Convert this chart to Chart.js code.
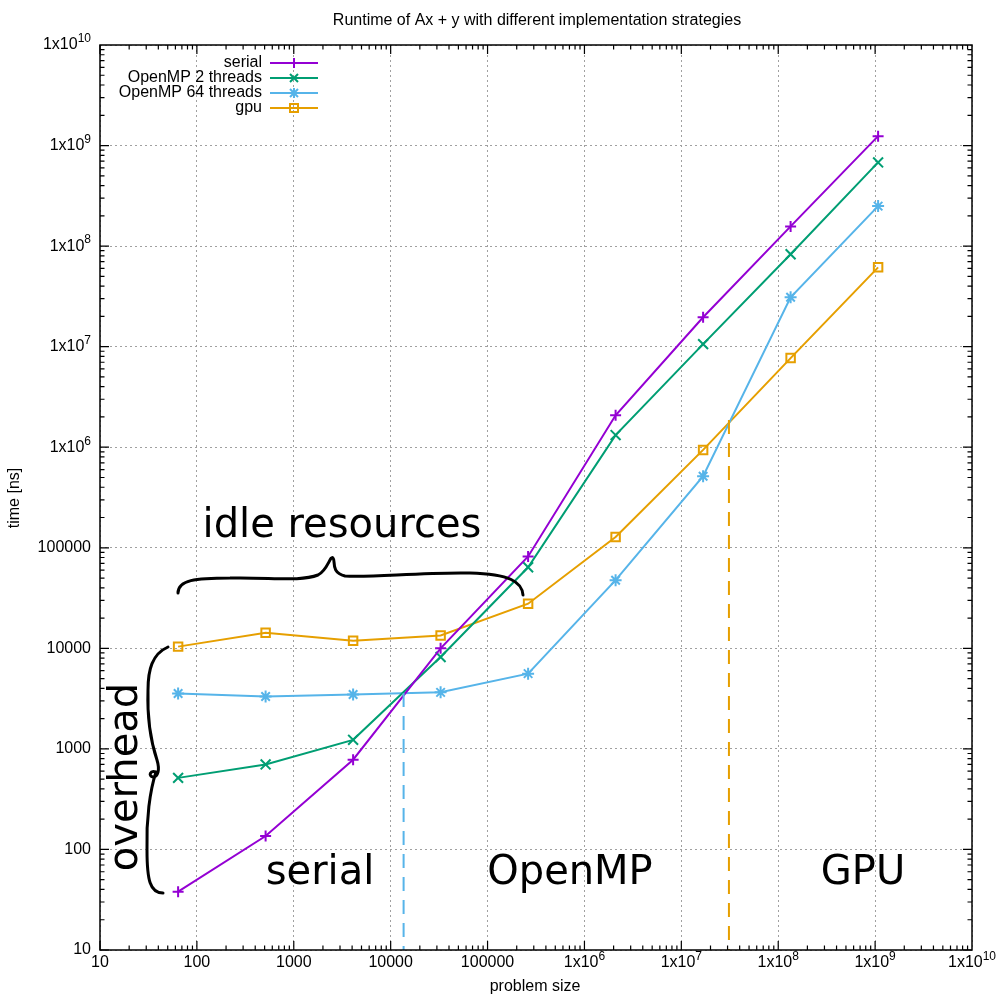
<!DOCTYPE html>
<html>
<head>
<meta charset="utf-8">
<script src="https://cdn.jsdelivr.net/npm/chart.js@4"></script>
<style>
  body { margin: 0; background: #fff; }
  #wrap { width: 1000px; height: 1000px; }
</style>
</head>
<body>
<div id="wrap"><canvas id="runtimeChart" width="1000" height="1000"></canvas></div>
<script>
// problem sizes (x) and runtimes in ns (y)
const problemSize = [64, 512, 4096, 32768, 262144, 2097152, 16777216, 134217728, 1073741824];
const serialTime = [38, 136, 780, 10000, 82000, 2.08e6, 1.96e7, 1.57e8, 1.24e9];
const omp2Time = [515, 700, 1230, 8200, 64000, 1.32e6, 1.06e7, 8.3e7, 6.8e8];
const omp64Time = [3550, 3320, 3480, 3650, 5600, 47600, 5.15e5, 3.1e7, 2.5e8];
const gpuTime = [10400, 14300, 11900, 13400, 27800, 1.28e5, 9.4e5, 7.7e6, 6.15e7];

const seriesNames = ['serial', 'OpenMP 2 threads', 'OpenMP 64 threads', 'gpu'];
const seriesColors = ['#9400d3', '#009e73', '#56b4e9', '#e69f00'];
const seriesMarkers = ['plus', 'x', 'star', 'square'];

// axis decades
const decadeTicks = [10, 100, 1000, 10000, 100000, 1e6, 1e7, 1e8, 1e9, 1e10];

// crossover markers (x, y top) for the dashed lines
const crossOmp = [13600, 3590];
const crossGpu = [3.1e7, 1.86e6];

function makePoints(ys) {
    return problemSize.map((x, i) => ({ x: x, y: ys[i] }));
}

// draw a gnuplot-like marker
function drawMarker(ctx, kind, x, y, color) {
    const r = 5;
    ctx.save();
    ctx.strokeStyle = color;
    ctx.lineWidth = 2;
    ctx.setLineDash([]);
    ctx.beginPath();
    if (kind === 'plus' || kind === 'star') {
        ctx.moveTo(x - r, y); ctx.lineTo(x + r, y);
        ctx.moveTo(x, y - r); ctx.lineTo(x, y + r);
    }
    if (kind === 'x' || kind === 'star') {
        ctx.moveTo(x - 4, y - 4); ctx.lineTo(x + 4, y + 4);
        ctx.moveTo(x - 4, y + 4); ctx.lineTo(x + 4, y - 4);
    }
    if (kind === 'square') {
        ctx.rect(x - 4, y - 4, 8, 8);
    }
    ctx.stroke();
    ctx.restore();
}

// label like 1x10^6 with a superscript
function tickLabel(ctx, v, x, y, align) {
    const exp = Math.round(Math.log10(v));
    ctx.save();
    ctx.fillStyle = '#000';
    ctx.textBaseline = 'middle';
    ctx.font = '16px "Liberation Sans"';
    if (exp <= 5) {
        ctx.textAlign = align;
        ctx.fillText(String(Math.round(v)), x, y);
    } else {
        const base = '1x10';
        const bw = ctx.measureText(base).width;
        ctx.font = '12px "Liberation Sans"';
        const ew = ctx.measureText(String(exp)).width;
        const total = bw + ew;
        const left = align === 'right' ? x - total : x - total / 2;
        ctx.textAlign = 'left';
        ctx.font = '16px "Liberation Sans"';
        ctx.fillText(base, left, y);
        ctx.font = '12px "Liberation Sans"';
        ctx.fillText(String(exp), left + bw, y - 6);
    }
    ctx.restore();
}

const gnuplotLook = {
    id: 'gnuplotLook',
    beforeDraw(chart) {
        const ctx = chart.ctx;
        ctx.save();
        ctx.fillStyle = '#fff';
        ctx.fillRect(0, 0, chart.width, chart.height);
        ctx.restore();
    },
    afterDatasetsDraw(chart) {
        const ctx = chart.ctx;
        const a = chart.chartArea;
        const xs = chart.scales.x, ys = chart.scales.y;

        // dashed crossover lines
        ctx.save();
        ctx.lineWidth = 2;
        ctx.setLineDash([14, 9]);
        ctx.strokeStyle = seriesColors[2];
        let px = xs.getPixelForValue(crossOmp[0]);
        ctx.beginPath();
        ctx.moveTo(px, ys.getPixelForValue(crossOmp[1]));
        ctx.lineTo(px, a.bottom);
        ctx.stroke();
        ctx.strokeStyle = seriesColors[3];
        px = xs.getPixelForValue(crossGpu[0]);
        ctx.beginPath();
        ctx.moveTo(px, ys.getPixelForValue(crossGpu[1]));
        ctx.lineTo(px, a.bottom);
        ctx.stroke();
        ctx.restore();

        // frame
        ctx.save();
        ctx.strokeStyle = '#000';
        ctx.lineWidth = 1.5;
        ctx.strokeRect(a.left, a.top, a.right - a.left, a.bottom - a.top);

        // major and minor ticks on all four sides
        ctx.lineWidth = 1.2;
        ctx.beginPath();
        for (let e = 1; e < 10; e++) {
            for (let m = 1; m <= 9; m++) {
                const v = m * Math.pow(10, e);
                const len = m === 1 ? 9 : 4.5;
                const tx = xs.getPixelForValue(v);
                ctx.moveTo(tx, a.bottom); ctx.lineTo(tx, a.bottom - len);
                ctx.moveTo(tx, a.top); ctx.lineTo(tx, a.top + len);
                const ty = ys.getPixelForValue(v);
                ctx.moveTo(a.left, ty); ctx.lineTo(a.left + len, ty);
                ctx.moveTo(a.right, ty); ctx.lineTo(a.right - len, ty);
            }
        }
        ctx.stroke();
        ctx.restore();

        // tick labels
        decadeTicks.forEach(v => {
            tickLabel(ctx, v, a.left - 9, ys.getPixelForValue(v), 'right');
            tickLabel(ctx, v, xs.getPixelForValue(v), a.bottom + 13, 'center');
        });

        // title and axis titles
        ctx.save();
        ctx.fillStyle = '#000';
        ctx.textAlign = 'center';
        ctx.textBaseline = 'middle';
        ctx.font = '16px "Liberation Sans"';
        ctx.fillText('Runtime of Ax + y with different implementation strategies', 537, 21);
        ctx.fillText('problem size', 535, 987);
        ctx.translate(15, 498);
        ctx.rotate(-Math.PI / 2);
        ctx.fillText('time [ns]', 0, 0);
        ctx.restore();

        // legend
        ctx.save();
        ctx.font = '16px "Liberation Sans"';
        ctx.textAlign = 'right';
        ctx.textBaseline = 'middle';
        seriesNames.forEach((name, i) => {
            const ly = 63 + i * 15;
            ctx.fillStyle = '#000';
            ctx.fillText(name, 262, ly);
            ctx.strokeStyle = seriesColors[i];
            ctx.lineWidth = 2;
            ctx.beginPath();
            ctx.moveTo(270, ly); ctx.lineTo(318, ly);
            ctx.stroke();
            drawMarker(ctx, seriesMarkers[i], 294, ly, seriesColors[i]);
        });
        ctx.restore();

        // hand drawn annotations
        ctx.save();
        ctx.strokeStyle = '#000';
        ctx.lineWidth = 3;
        ctx.lineCap = 'round';
        ctx.lineJoin = 'round';
        // idle resources brace
        ctx.beginPath();
        ctx.moveTo(178, 593);
        ctx.bezierCurveTo(178, 580, 195, 578, 230, 578);
        ctx.bezierCurveTo(270, 577, 300, 582, 318, 575);
        ctx.bezierCurveTo(328, 570, 330, 555, 333, 558);
        ctx.bezierCurveTo(336, 561, 330, 572, 345, 576);
        ctx.bezierCurveTo(370, 578, 420, 572, 470, 573);
        ctx.bezierCurveTo(510, 574, 522, 582, 523, 595);
        ctx.stroke();
        // overhead brace
        ctx.beginPath();
        ctx.moveTo(168, 647);
        ctx.bezierCurveTo(152, 654, 148, 670, 148, 690);
        ctx.bezierCurveTo(147, 720, 152, 745, 157, 760);
        ctx.bezierCurveTo(160, 770, 158, 777, 153, 777);
        ctx.bezierCurveTo(148, 776, 150, 770, 156, 772);
        ctx.bezierCurveTo(150, 790, 146, 820, 147, 850);
        ctx.bezierCurveTo(147, 880, 150, 893, 163, 893);
        ctx.stroke();
        ctx.restore();

        ctx.save();
        ctx.fillStyle = '#000';
        ctx.font = '40px "DejaVu Sans"';
        ctx.textAlign = 'center';
        ctx.textBaseline = 'middle';
        ctx.fillText('idle resources', 342, 527);
        ctx.fillText('serial', 320, 874);
        ctx.fillText('OpenMP', 570, 874);
        ctx.fillText('GPU', 863, 874);
        ctx.translate(127, 777);
        ctx.rotate(-Math.PI / 2);
        ctx.fillText('overhead', 0, 0);
        ctx.restore();
    }
};

const seriesData = [serialTime, omp2Time, omp64Time, gpuTime];
const chartPointStyles = ['cross', 'crossRot', 'star', 'rect'];
const chartPointRadius = [5.5, 7, 6, 6];

const ctxRuntime = document.getElementById('runtimeChart').getContext('2d');
const runtimeChart = new Chart(ctxRuntime, {
    type: 'line',
    data: {
        datasets: seriesData.map((ys, i) => ({
            label: seriesNames[i],
            data: makePoints(ys),
            borderColor: seriesColors[i],
            backgroundColor: 'rgba(0,0,0,0)',
            borderWidth: 2,
            pointStyle: chartPointStyles[i],
            pointRadius: chartPointRadius[i],
            pointBorderWidth: 2,
            pointBorderColor: seriesColors[i],
            pointBackgroundColor: i === 3 ? 'rgba(0,0,0,0)' : seriesColors[i],
            tension: 0,
            fill: false
        }))
    },
    options: {
        responsive: false,
        animation: false,
        events: [],
        layout: {
            padding: { left: 100, right: 28, top: 45, bottom: 50 }
        },
        plugins: {
            legend: { display: false },
            title: { display: false },
            tooltip: { enabled: false }
        },
        scales: {
            x: {
                type: 'logarithmic',
                min: 10,
                max: 1e10,
                afterBuildTicks: function (scale) {
                    scale.ticks = decadeTicks.map(v => ({ value: v }));
                },
                afterFit: function (scale) { scale.height = 0; },
                ticks: { display: false },
                grid: { color: '#a0a0a0', lineWidth: 1, drawTicks: false },
                border: { display: false, dash: [2, 3] }
            },
            y: {
                type: 'logarithmic',
                min: 10,
                max: 1e10,
                afterBuildTicks: function (scale) {
                    scale.ticks = decadeTicks.map(v => ({ value: v }));
                },
                afterFit: function (scale) { scale.width = 0; },
                ticks: { display: false },
                grid: { color: '#a0a0a0', lineWidth: 1, drawTicks: false },
                border: { display: false, dash: [2, 3] }
            }
        }
    },
    plugins: [gnuplotLook]
});
</script>
</body>
</html>
